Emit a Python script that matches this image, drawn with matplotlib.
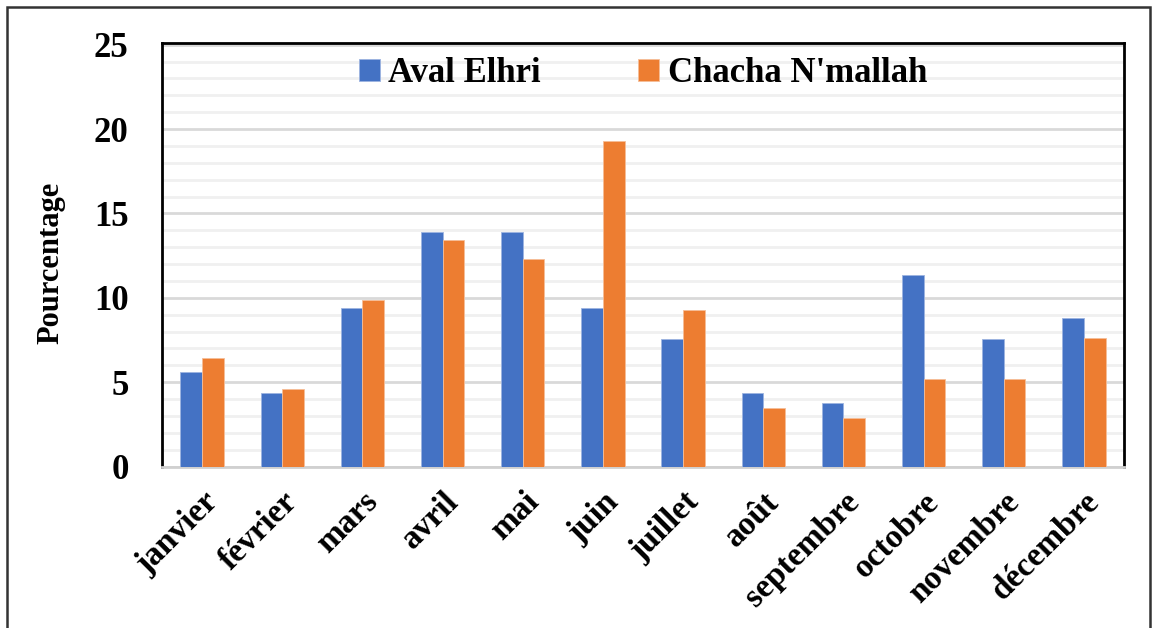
import numpy as np
import matplotlib
matplotlib.use("Agg")
import matplotlib.pyplot as plt
from matplotlib.patches import Rectangle

# Data (percentage per month)
months = ['janvier', 'février', 'mars', 'avril', 'mai', 'juin', 'juillet',
          'août', 'septembre', 'octobre', 'novembre', 'décembre']
aval_elhri = [5.6, 4.35, 9.4, 13.9, 13.9, 9.4, 7.55, 4.35, 3.75, 11.35, 7.55, 8.8]
chacha_nmallah = [6.45, 4.6, 9.9, 13.45, 12.3, 19.3, 9.3, 3.45, 2.9, 5.2, 5.2, 7.6]
series_names = ['Aval Elhri', "Chacha N'mallah"]
y_ticks = [0, 5, 10, 15, 20, 25]

plt.rcParams['font.family'] = ['Liberation Serif', 'DejaVu Serif']
plt.rcParams['font.weight'] = 'bold'

fig = plt.figure(figsize=(11.53, 6.28), dpi=100)
ax = fig.add_axes([0.1405, 0.257, 0.8344, 0.675])

x = np.arange(len(months))
w = 0.27
ax.bar(x - w / 2, aval_elhri, w, color='#4472C4', edgecolor='#9DB4E0', linewidth=0.6,
       label=series_names[0], zorder=3)
ax.bar(x + w / 2, chacha_nmallah, w, color='#ED7D31', edgecolor='#F6BE98', linewidth=0.6,
       label=series_names[1], zorder=3)

ax.set_xlim(-0.5, len(months) - 0.5)
ax.set_ylim(0, 25.12)
ax.set_yticks(y_ticks)
ax.set_yticks(np.arange(0, 26, 1), minor=True)
ax.grid(axis='y', which='major', color='#d9d9d9', linewidth=2, zorder=0)
ax.grid(axis='y', which='minor', color='#f0f0f0', linewidth=2, zorder=0)
ax.set_axisbelow(True)

ax.set_xticks(x)
ax.set_xticklabels(months, rotation=45, ha='right', rotation_mode='anchor',
                   fontsize=24, fontweight='bold')
ax.tick_params(axis='x', length=0, pad=14)
ax.tick_params(axis='y', which='both', length=0, pad=24, labelsize=25)
for lab in ax.get_yticklabels():
    lab.set_fontweight('bold')

for side in ['left', 'top', 'right']:
    ax.spines[side].set_color('black')
    ax.spines[side].set_linewidth(2)
ax.spines['bottom'].set_color('#d0d0d0')
ax.spines['bottom'].set_linewidth(2)

ax.set_ylabel('Pourcentage', fontsize=22, fontweight='bold', labelpad=16)
ax.yaxis.set_label_coords(-0.1, 0.48)

leg = ax.legend(loc='upper center', bbox_to_anchor=(0.5, 1.04), ncol=2, frameon=False,
                handlelength=0.6, handleheight=0.6, handletextpad=0.25,
                columnspacing=2.8, prop={'weight': 'bold', 'size': 25})

# outer frame around the whole figure
fig.patches.append(Rectangle((7 / 1153, -0.05), 1143 / 1153, 1 - 7 / 628 + 0.05,
                             transform=fig.transFigure, fill=False,
                             edgecolor='#333333', linewidth=1.8))

fig.savefig('out.png', dpi=100)
